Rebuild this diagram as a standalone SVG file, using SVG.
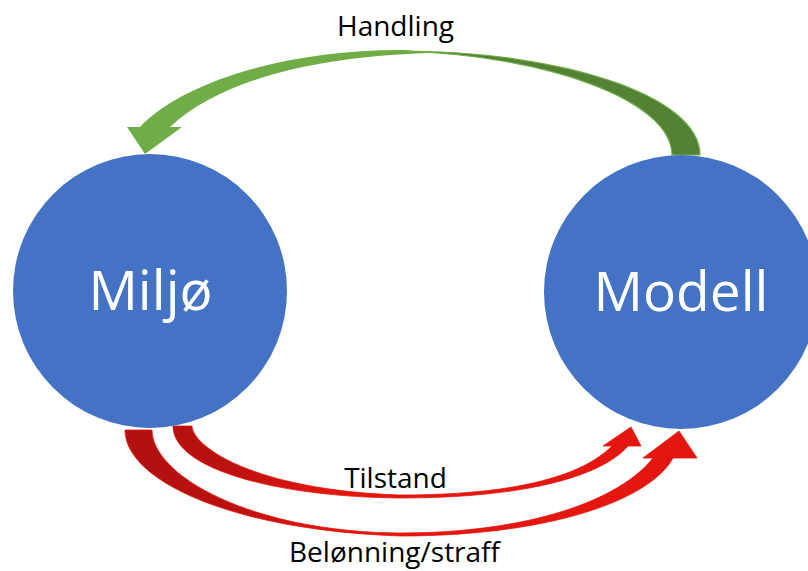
<svg xmlns="http://www.w3.org/2000/svg" width="808" height="571" viewBox="0 0 808 571">
<style>
.node{fill:#4472C4;}
.ntext{fill:#FFFFFF;font-family:"Open Sans","Noto Sans",sans-serif;font-size:55px;text-anchor:middle;}
.label{fill:#000000;font-family:"Open Sans","Noto Sans",sans-serif;font-size:28px;text-anchor:middle;}
.glight{fill:#70AD47;}
.gdark{fill:#548235;stroke:#70AD47;stroke-width:1.2;}
.red{stroke:#E3170F;stroke-width:0.8;}
</style>
<defs>
<linearGradient id="redGrad" gradientUnits="userSpaceOnUse" x1="150" y1="0" x2="330" y2="0">
<stop offset="0" stop-color="#B31010"/>
<stop offset="0.45" stop-color="#BB1110"/>
<stop offset="1" stop-color="#E3170F"/>
</linearGradient>
</defs>
<rect width="808" height="571" fill="#FFFFFF"/>
<g id="connectors">
<g id="handling-arrow">
<path class="gdark" d="M700,155 C700,95 560,51 400,51 C545,55 672,100 672,155 Z"/>
<path class="glight" d="M400,50 C290,50 185,80 140,127 L127,127 L145,154 L182,127 L170,127 C215,85 300,57 430,53 C420,51.5 410,50 400,50 Z"/>
</g>
<g id="tilstand-arrow">
<path class="red" fill="url(#redGrad)" d="M173,426 C173,470 280,497 400,498 C520,498 600,478 628,446 L641,446 L631,427 L603,446 L612,446 C580,478 510,495 400,495 C250,490 192,445 192,426 Z"/>
</g>
<g id="belonning-arrow">
<path class="red" fill="url(#redGrad)" d="M125,430 C125,480 230,530 400,536 C550,536 650,500 673,458 L697,458 L679,431 L643,458 L653,458 C620,500 530,533 400,533 C250,532 152,475 152,430 Z"/>
</g>
</g>
<g id="node-miljo">
<circle class="node" cx="150" cy="291" r="137"/>
<text class="ntext" x="150.5" y="310">Miljø</text>
</g>
<g id="node-modell">
<circle class="node" cx="681" cy="292" r="137"/>
<text class="ntext" x="681" y="311">Modell</text>
</g>
<g id="labels">
<text class="label" x="395.5" y="36">Handling</text>
<text class="label" x="395.5" y="488">Tilstand</text>
<text class="label" x="394.5" y="562">Belønning/straff</text>
</g>
</svg>
